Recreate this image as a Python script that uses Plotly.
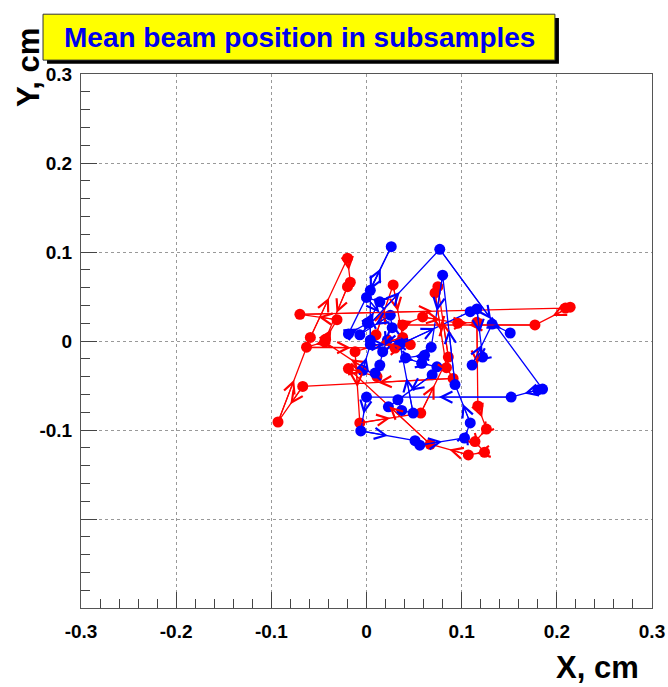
import plotly.graph_objects as go

# Mean beam position per subsample (cm), two sequences
red_x = [0.010, 0.028, 0.038, -0.012, -0.007, 0.057, 0.086, 0.075, 0.072, 0.084,
         0.091, -0.067, -0.093, -0.059, -0.020, -0.017, -0.020, -0.043, -0.031, -0.070,
         0.209, 0.214, 0.177, 0.038, 0.059, 0.096, 0.116, 0.117, 0.126, 0.114,
         0.124, 0.107, 0.067, -0.019, 0.011, -0.044, -0.063, 0.030, 0.046]
red_y = [0.007, 0.063, 0.004, -0.012, -0.092, -0.081, -0.018, 0.061, 0.054, -0.030,
         -0.042, -0.051, -0.091, 0.004, 0.093, 0.066, 0.061, 0.002, 0.024, 0.030,
         0.037, 0.038, 0.018, 0.018, 0.027, 0.020, 0.021, -0.073, -0.099, -0.113,
         -0.125, -0.128, -0.116, -0.031, -0.040, -0.001, -0.007, -0.008, -0.004]

blue_x = [0.004, 0.004, 0.026, -0.019, 0.001, 0.014, 0.000, 0.027, 0.025, -0.007,
          0.077, 0.185, 0.180, 0.152, 0.000, -0.006, 0.051, 0.056, 0.103, 0.109,
          0.093, 0.080, 0.068, 0.061, 0.041, 0.058, 0.074, 0.069, 0.023, 0.033,
          0.037, 0.049, 0.035, 0.022, 0.017, 0.014, 0.009, -0.004, 0.004, 0.035,
          0.109, 0.116, 0.122, 0.111, 0.132, 0.151]
blue_y = [0.001, 0.057, 0.106, 0.008, 0.020, 0.044, 0.049, 0.015, 0.029, 0.007,
          0.103, -0.054, -0.055, -0.063, -0.063, -0.101, -0.112, -0.117, -0.109, -0.092,
          -0.049, 0.074, -0.007, -0.016, -0.019, -0.025, -0.029, -0.038, -0.074, -0.066,
          -0.078, -0.081, -0.002, 0.001, -0.012, -0.027, -0.036, -0.033, -0.004, -0.004,
          0.033, 0.036, -0.018, -0.027, 0.019, 0.009]

axis_ticks = [-0.3, -0.2, -0.1, 0, 0.1, 0.2, 0.3]
x_tick_text = ["-0.3", "-0.2", "-0.1", "0", "0.1", "0.2", "0.3"]
y_tick_text = ["", "", "-0.1", "0", "0.1", "0.2", "0.3"]

title_text = "Mean beam position in subsamples"

RED = "#ff0000"
BLUE = "#0000ff"
FONT = "Liberation Sans, Arial, Helvetica, sans-serif"

fig = go.Figure()
annotations = []
for xs, ys, col in [(red_x, red_y, RED), (blue_x, blue_y, BLUE)]:
    fig.add_trace(go.Scatter(
        x=xs, y=ys, mode="lines+markers",
        line=dict(color=col, width=1.3),
        marker=dict(color=col, size=11, line=dict(width=0)),
        showlegend=False, hoverinfo="skip"))
    for i in range(len(xs) - 1):
        mx = (xs[i] + xs[i + 1]) / 2
        my = (ys[i] + ys[i + 1]) / 2
        annotations.append(dict(
            x=mx, y=my, ax=xs[i], ay=ys[i], xref="x", yref="y",
            axref="x", ayref="y", text="", showarrow=True,
            arrowhead=5, arrowsize=2.0, arrowwidth=1.1, arrowcolor=col,
            standoff=0, startstandoff=0))

# Axis titles and title text
annotations.append(dict(text="<b>Y, cm</b>", xref="paper", yref="paper",
                        x=-0.092, y=1.012, textangle=-90, showarrow=False,
                        font=dict(family=FONT, size=31, color="black"),
                        xanchor="center", yanchor="middle"))
annotations.append(dict(text="<b>X, cm</b>", xref="paper", yref="paper",
                        x=0.904, y=-0.112, showarrow=False,
                        font=dict(family=FONT, size=31, color="black"),
                        xanchor="center", yanchor="middle"))
annotations.append(dict(text="<b>" + title_text + "</b>", xref="paper", yref="paper",
                        x=0.3835, y=1.069, showarrow=False,
                        font=dict(family=FONT, size=28, color="#0000ee"),
                        xanchor="center", yanchor="middle"))

shapes = [
    dict(type="rect", xref="paper", yref="paper",
         x0=-0.0595, x1=0.837, y0=1.019, y1=1.105,
         fillcolor="black", line=dict(width=0), layer="above"),
    dict(type="rect", xref="paper", yref="paper",
         x0=-0.0665, x1=0.830, y0=1.026, y1=1.112,
         fillcolor="#ffff00", line=dict(width=1, color="#333333"), layer="above"),
]

axis_common = dict(
    range=[-0.3, 0.3], tickvals=axis_ticks, ticks="inside", ticklen=16,
    tickcolor="#444", tickwidth=1, showline=True, linecolor="#555",
    linewidth=1, mirror=True, showgrid=True, gridcolor="#999",
    griddash="dot", gridwidth=1, zeroline=False, automargin=False,
    tickfont=dict(family=FONT, size=19, color="black"),
    minor=dict(dtick=0.02, ticks="inside", ticklen=9, tickcolor="#444",
               showgrid=False),
)

fig.update_layout(
    width=668, height=687,
    margin=dict(l=81, r=16, t=74, b=79),
    paper_bgcolor="white", plot_bgcolor="white",
    xaxis=dict(axis_common, ticktext=["<b>%s</b>" % t for t in x_tick_text],
               ticklabelstandoff=6),
    yaxis=dict(axis_common,
               ticktext=["<b>%s</b>" % t if t else "" for t in y_tick_text],
               ticklabelstandoff=4),
    annotations=annotations,
    shapes=shapes,
)

fig.write_html("out.html",
               post_script="document.body.style.margin='0';"
                           "document.body.style.overflow='hidden';")
